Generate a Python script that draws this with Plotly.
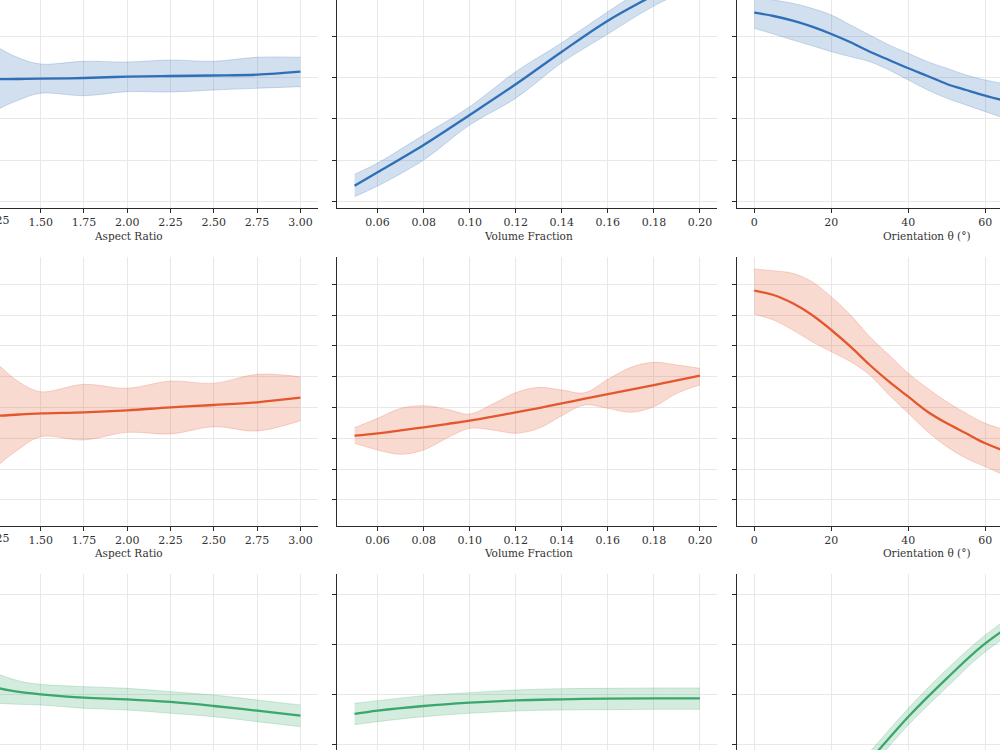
import plotly.graph_objects as go

# ---------------- data ----------------
aspect_ratio = [1.0, 1.125, 1.25, 1.375, 1.5, 1.75, 2.0, 2.25, 2.5, 2.75, 3.0]
vol_frac = [0.05, 0.06, 0.08, 0.10, 0.12, 0.14, 0.16, 0.18, 0.20]
vol_frac_fine = [0.05, 0.06, 0.07, 0.08, 0.09, 0.10, 0.11, 0.12, 0.13, 0.14,
                 0.15, 0.16, 0.17, 0.18, 0.19, 0.20]
theta = [0, 10, 20, 30, 40, 50, 60, 70, 80, 90]
theta_fine = [0, 5, 10, 15, 20, 25, 30, 35, 40, 45, 50, 55, 60, 70, 80, 90]

# Row 1 (blue)
r1_ar_mean = [9.880, 9.894, 9.918, 9.928, 9.942, 9.976, 10.039, 10.072, 10.096, 10.135, 10.280]
r1_ar_hi = [13.012, 12.289, 11.470, 10.940, 10.651, 10.781, 10.747, 10.843, 10.781, 10.974, 10.974]
r1_ar_lo = [6.747, 7.566, 8.434, 8.916, 9.239, 9.123, 9.316, 9.301, 9.398, 9.480, 9.557]

r1_vf_mean = [4.786, 5.432, 6.747, 8.193, 9.672, 11.243, 12.737, 13.976, 15.181]
r1_vf_hi = [5.335, 5.880, 7.229, 8.593, 10.280, 11.677, 13.171, 14.602, 15.952]
r1_vf_lo = [4.256, 4.771, 6.024, 7.711, 9.000, 10.713, 12.096, 13.446, 14.506]

r1_th_mean = [13.123, 12.964, 12.737, 12.448, 12.096, 11.696, 11.243, 10.843, 10.443,
              10.072, 9.687, 9.398, 9.123, 8.675, 8.434, 8.289]
r1_th_hi = [13.880, 13.735, 13.576, 13.335, 13.012, 12.530, 12.048, 11.566, 11.166,
            10.762, 10.443, 10.121, 9.880, 9.542, 9.350, 9.253]
r1_th_lo = [12.371, 12.096, 11.807, 11.533, 11.243, 11.002, 10.762, 10.362, 9.880,
            9.398, 8.998, 8.675, 8.352, 7.759, 7.422, 7.229]

# Row 2 (red)
r2_ar_mean = [46.61, 47.10, 47.33, 47.75, 48.14, 48.47, 49.11, 50.09, 50.83, 51.71, 53.20]
r2_ar_hi = [76.80, 70.31, 64.14, 58.30, 55.15, 57.55, 56.25, 58.62, 57.88, 60.80, 60.02]
r2_ar_lo = [18.38, 24.22, 31.04, 36.55, 40.55, 39.47, 41.97, 41.42, 43.79, 42.40, 45.74]

r2_vf_mean = [40.88, 41.64, 42.61, 43.58, 44.66, 45.75, 47.05, 48.45, 49.86, 51.37,
              52.89, 54.40, 55.81, 57.32, 58.84, 60.35]
r2_vf_hi = [43.47, 46.50, 49.75, 50.62, 49.43, 47.91, 51.16, 54.83, 56.56, 55.70,
            54.83, 59.16, 63.06, 64.68, 63.81, 62.73]
r2_vf_lo = [38.39, 36.23, 34.82, 36.23, 40.01, 43.26, 42.72, 41.64, 43.26, 47.37,
            50.83, 49.75, 48.45, 50.29, 54.62, 57.32]

r2_th_mean = [87.93, 86.54, 83.84, 80.05, 75.18, 69.76, 63.82, 58.40, 53.53, 48.66,
              44.89, 41.65, 38.40, 33.63, 29.74, 27.47]
r2_th_hi = [94.98, 94.42, 93.58, 90.85, 85.99, 80.05, 73.00, 67.06, 61.12, 56.25,
            51.90, 48.14, 44.89, 41.10, 38.50, 36.88]
r2_th_lo = [80.27, 78.42, 75.18, 71.38, 68.13, 64.89, 60.57, 54.08, 48.14, 42.17,
            37.30, 33.53, 30.81, 25.52, 22.60, 20.00]

# Row 3 (green)
r3_ar_mean = [4.653, 4.453, 4.267, 4.108, 4.015, 3.882, 3.816, 3.710, 3.550, 3.364, 3.165]
r3_ar_hi = [5.383, 5.117, 4.825, 4.546, 4.413, 4.321, 4.254, 4.121, 3.989, 3.789, 3.590]
r3_ar_lo = [3.723, 3.683, 3.657, 3.617, 3.590, 3.458, 3.391, 3.258, 3.125, 2.926, 2.727]

r3_vf_mean = [3.232, 3.364, 3.550, 3.683, 3.776, 3.816, 3.842, 3.856, 3.856]
r3_vf_hi = [3.657, 3.763, 3.962, 4.081, 4.188, 4.241, 4.254, 4.267, 4.267]
r3_vf_lo = [2.807, 2.926, 3.125, 3.258, 3.351, 3.391, 3.404, 3.418, 3.418]

r3_th_mean = [-1.124, -0.925, -0.195, 1.399, 3.125, 4.652, 6.047, 7.043, 7.508, 7.840]
r3_th_hi = [-0.792, -0.593, 0.137, 1.731, 3.457, 5.011, 6.379, 7.402, 7.906, 8.238]
r3_th_lo = [-1.364, -1.257, -0.527, 1.067, 2.793, 4.294, 5.715, 6.684, 7.136, 7.441]

x_titles = ["Aspect Ratio", "Volume Fraction", "Orientation θ (°)"]

# ---------------- styling ----------------
colors = {
    1: ("#2e6fb7", "rgba(46,111,183,0.22)", "rgba(46,111,183,0.28)"),
    2: ("#e4572e", "rgba(228,87,46,0.22)", "rgba(228,87,46,0.28)"),
    3: ("#3aa76b", "rgba(58,167,107,0.22)", "rgba(58,167,107,0.28)"),
}

panels = [
    (1, 1, aspect_ratio, r1_ar_mean, r1_ar_hi, r1_ar_lo),
    (1, 2, vol_frac, r1_vf_mean, r1_vf_hi, r1_vf_lo),
    (1, 3, theta_fine, r1_th_mean, r1_th_hi, r1_th_lo),
    (2, 1, aspect_ratio, r2_ar_mean, r2_ar_hi, r2_ar_lo),
    (2, 2, vol_frac_fine, r2_vf_mean, r2_vf_hi, r2_vf_lo),
    (2, 3, theta_fine, r2_th_mean, r2_th_hi, r2_th_lo),
    (3, 1, aspect_ratio, r3_ar_mean, r3_ar_hi, r3_ar_lo),
    (3, 2, vol_frac, r3_vf_mean, r3_vf_hi, r3_vf_lo),
    (3, 3, theta, r3_th_mean, r3_th_hi, r3_th_lo),
]

col_domains = {1: [0.0, 0.3177], 2: [0.3373, 0.717], 3: [0.7373, 1.0]}
row_domains = {1: [0.7227, 1.0], 2: [0.2991, 0.6573], 3: [0.0, 0.2347]}
col_ranges = {1: [1.265, 3.10], 2: [0.0425, 0.2074], 3: [-4.4, 63.8]}
col_dticks = {1: 0.25, 2: 0.02, 3: 20}
col_fmt = {1: ".2f", 2: ".2f", 3: "d"}
row_ranges = {1: [3.711, 13.735], 2: [11.66, 98.87], 3: [1.797, 8.809]}
row_dticks = {1: 2, 2: 10, 3: 2}

AXIS_COLOR = "#2b2b2b"
GRID_COLOR = "#e8e8e8"
FONT = "DejaVu Serif"

fig = go.Figure()
layout = {}
for (r, c, xs, mean, hi, lo) in panels:
    n = (r - 1) * 3 + c
    xa = "x" if n == 1 else f"x{n}"
    ya = "y" if n == 1 else f"y{n}"
    line_c, fill_c, edge_c = colors[r]
    fig.add_trace(go.Scatter(
        x=xs, y=lo, mode="lines",
        line=dict(color=edge_c, width=0.8, shape="spline"),
        xaxis=xa, yaxis=ya, showlegend=False, hoverinfo="skip"))
    fig.add_trace(go.Scatter(
        x=xs, y=hi, mode="lines", fill="tonexty", fillcolor=fill_c,
        line=dict(color=edge_c, width=0.8, shape="spline"),
        xaxis=xa, yaxis=ya, showlegend=False, hoverinfo="skip"))
    fig.add_trace(go.Scatter(
        x=xs, y=mean, mode="lines",
        line=dict(color=line_c, width=2.3, shape="spline"),
        xaxis=xa, yaxis=ya, showlegend=False))
    xkey = "xaxis" if n == 1 else f"xaxis{n}"
    ykey = "yaxis" if n == 1 else f"yaxis{n}"
    layout[xkey] = dict(
        domain=col_domains[c], range=col_ranges[c], anchor=ya,
        tick0=0, dtick=col_dticks[c], tickformat=col_fmt[c],
        showgrid=True, gridcolor=GRID_COLOR, gridwidth=1,
        showline=True, linecolor=AXIS_COLOR, linewidth=1.3,
        ticks="outside", ticklen=4, tickwidth=1, tickcolor=AXIS_COLOR,
        tickfont=dict(family=FONT, size=11, color="#333333"),
        zeroline=False, showticklabels=(r != 3), automargin=False)
    layout[ykey] = dict(
        domain=row_domains[r], range=row_ranges[r], anchor=xa,
        tick0=0, dtick=row_dticks[r],
        showgrid=True, gridcolor=GRID_COLOR, gridwidth=1,
        showline=True, linecolor=AXIS_COLOR, linewidth=1.3,
        ticks="outside", ticklen=4, tickwidth=1, tickcolor=AXIS_COLOR,
        showticklabels=False, zeroline=False, automargin=False)

annotations = []
title_x = [0.128, 0.528, 0.927]
for ry in [1 - 236 / 750, 1 - 553 / 750]:
    for tx, t in zip(title_x, x_titles):
        annotations.append(dict(
            x=tx, y=ry, xref="paper", yref="paper", text=t, showarrow=False,
            xanchor="center", yanchor="middle",
            font=dict(family=FONT, size=10.5, color="#333333")))
# partially visible first tick label of the Aspect Ratio axes
for ry in [1 - 221 / 750, 1 - 538 / 750]:
    annotations.append(dict(
        x=-0.0026, y=ry, xref="paper", yref="paper", text="1.25", showarrow=False,
        xanchor="center", yanchor="middle",
        font=dict(family=FONT, size=11, color="#333333")))

fig.update_layout(
    template="none",
    width=1000, height=750,
    margin=dict(l=0, r=0, t=0, b=0, pad=0, autoexpand=False),
    plot_bgcolor="white", paper_bgcolor="white",
    font=dict(family=FONT, color="#333333"),
    annotations=annotations,
    **layout)

fig.write_html("out.html")
